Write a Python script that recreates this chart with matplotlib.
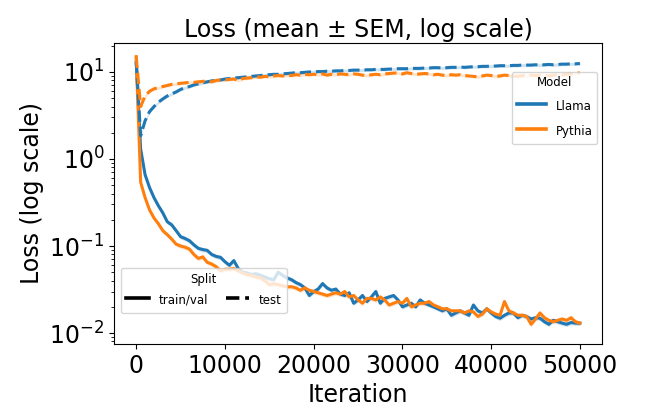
import numpy as np
import matplotlib
matplotlib.use("Agg")
import matplotlib.pyplot as plt
from matplotlib.lines import Line2D

# iterations (every 500 steps)
iterations = np.arange(0, 50001, 500)

llama_train = [
    13.0, 1.3, 0.66, 0.47, 0.36, 0.29, 0.24, 0.19, 0.175, 0.15,
    0.128, 0.122, 0.115, 0.103, 0.094, 0.091, 0.089, 0.08, 0.076, 0.074,
    0.066, 0.060, 0.068, 0.055, 0.050, 0.049, 0.047, 0.048, 0.046, 0.044,
    0.042, 0.041, 0.050, 0.046, 0.043, 0.041, 0.038, 0.036, 0.033, 0.027,
    0.030, 0.032, 0.037, 0.033, 0.031, 0.032, 0.028, 0.027, 0.029, 0.022,
    0.024, 0.027, 0.023, 0.026, 0.030, 0.022, 0.025, 0.026, 0.027, 0.024,
    0.020, 0.021, 0.022, 0.020, 0.024, 0.022, 0.021, 0.020, 0.019, 0.018,
    0.019, 0.016, 0.017, 0.018, 0.017, 0.016, 0.021, 0.018, 0.017, 0.019,
    0.017, 0.0155, 0.0148, 0.016, 0.017, 0.017, 0.015, 0.016, 0.0155, 0.0145,
    0.015, 0.0148, 0.0135, 0.0126, 0.014, 0.0135, 0.013, 0.0126, 0.0132, 0.013,
    0.013,
]

pythia_train = [
    15.0, 0.54, 0.36, 0.26, 0.21, 0.18, 0.15, 0.135, 0.12, 0.105,
    0.10, 0.097, 0.092, 0.08, 0.072, 0.075, 0.065, 0.062, 0.058, 0.052,
    0.054, 0.054, 0.055, 0.052, 0.049, 0.047, 0.046, 0.044, 0.043, 0.040,
    0.036, 0.037, 0.036, 0.035, 0.034, 0.034, 0.033, 0.031, 0.033, 0.031,
    0.030, 0.029, 0.028, 0.027, 0.028, 0.029, 0.028, 0.030, 0.026, 0.027,
    0.024, 0.022, 0.025, 0.025, 0.024, 0.026, 0.024, 0.021, 0.022, 0.023,
    0.022, 0.025, 0.020, 0.021, 0.022, 0.022, 0.023, 0.021, 0.020, 0.019,
    0.019, 0.018, 0.018, 0.018, 0.017, 0.018, 0.0175, 0.0155, 0.0165, 0.019,
    0.0175, 0.0165, 0.016, 0.023, 0.018, 0.017, 0.016, 0.016, 0.0155, 0.0126,
    0.0145, 0.017, 0.015, 0.014, 0.0135, 0.014, 0.0145, 0.014, 0.015, 0.0135,
    0.013,
]

llama_test = [
    13.0, 1.85, 2.75, 3.5, 4.0, 4.5, 4.9, 5.3, 5.6, 5.9,
    6.3, 6.6, 6.8, 7.1, 7.3, 7.5, 7.7, 7.9, 8.0, 8.1,
    8.3, 8.4, 8.5, 8.6, 8.7, 8.8, 8.9, 9.0, 9.1, 9.2,
    9.3, 9.4, 9.4, 9.5, 9.6, 9.7, 9.8, 9.8, 9.9, 10.0,
    10.0, 10.1, 10.1, 10.2, 10.2, 10.3, 10.3, 10.4, 10.4, 10.5,
    10.5, 10.5, 10.6, 10.6, 10.7, 10.7, 10.7, 10.8, 10.8, 10.9,
    10.9, 10.9, 11.0, 11.0, 11.0, 11.1, 11.1, 11.2, 11.2, 11.1,
    11.2, 11.3, 11.3, 11.4, 11.3, 11.4, 11.5, 11.5, 11.6, 11.6,
    11.7, 11.7, 11.8, 11.8, 11.8, 11.9, 11.9, 12.0, 12.0, 12.0,
    12.1, 12.0, 12.1, 12.2, 12.1, 12.2, 12.3, 12.3, 12.4, 12.4,
    12.5,
]

pythia_test = [
    15.0, 4.0, 5.3, 6.0, 6.4, 6.6, 6.8, 7.0, 7.2, 7.3,
    7.4, 7.5, 7.6, 7.6, 7.7, 7.8, 7.9, 7.7, 8.0, 8.1,
    8.1, 8.2, 8.3, 8.0, 8.4, 8.5, 8.6, 8.8, 8.7, 8.9,
    8.8, 9.0, 9.1, 9.0, 9.2, 9.1, 9.3, 9.2, 9.4, 9.3,
    9.4, 9.3, 9.5, 9.2, 9.4, 9.3, 9.5, 9.4, 9.3, 9.5,
    9.4, 9.2, 9.1, 9.3, 9.4, 9.3, 9.5, 9.6, 9.7, 9.8,
    9.5, 9.8, 9.6, 9.4, 9.5, 9.6, 9.5, 9.3, 9.4, 9.2,
    9.1, 9.3, 9.2, 9.3, 9.1, 9.0, 8.9, 8.8, 9.0, 9.2,
    9.1, 8.9, 9.0, 9.2, 9.1, 9.0, 8.9, 9.1, 9.0, 9.2,
    9.1, 9.2, 9.1, 9.0, 9.2, 9.3, 9.2, 9.4, 9.5, 9.6,
    9.8,
]

# approximate relative SEM (band half-width) read from the shading
sem_rel = {"train": 0.06, "test": 0.04}

models = ["Llama", "Pythia"]
colors = {"Llama": "#1f77b4", "Pythia": "#ff7f0e"}
series = {
    ("Llama", "train"): llama_train,
    ("Pythia", "train"): pythia_train,
    ("Llama", "test"): llama_test,
    ("Pythia", "test"): pythia_test,
}
styles = {"train": "-", "test": "--"}

fig = plt.figure(figsize=(6.49, 4.07), dpi=100)
ax = fig.add_axes([0.1757, 0.1548, 0.752, 0.7396])

for (model, split), vals in series.items():
    vals = np.array(vals)
    r = sem_rel[split]
    ax.fill_between(iterations, vals * (1 - r), vals * (1 + r),
                    color=colors[model], alpha=0.2, linewidth=0)
    ax.plot(iterations, vals, color=colors[model], linestyle=styles[split],
            linewidth=2.2)

ax.set_yscale("log")
ax.set_ylim(10 ** -2.126, 10 ** 1.333)
ax.set_title("Loss (mean ± SEM, log scale)", fontsize=17, pad=4)
ax.set_xlabel("Iteration", fontsize=17)
ax.set_ylabel("Loss (log scale)", fontsize=17)
ax.tick_params(axis="both", labelsize=17)

model_handles = [Line2D([0], [0], color=colors[m], linewidth=2.6) for m in models]
leg1 = ax.legend(model_handles, models, title="Model", loc="upper right",
                 bbox_to_anchor=(0.99, 0.905), borderaxespad=0,
                 fontsize=8.5, title_fontsize=8.5, handleheight=1.8,
                 labelspacing=0.7, handlelength=2.5)
ax.add_artist(leg1)

split_handles = [Line2D([0], [0], color="black", linewidth=2.6, linestyle="-"),
                 Line2D([0], [0], color="black", linewidth=2.6, linestyle="--")]
ax.legend(split_handles, ["train/val", "test"], title="Split", ncol=2,
          loc="lower left", bbox_to_anchor=(0.014, 0.103), borderaxespad=0,
          fontsize=8.5, title_fontsize=8.5, columnspacing=1.5,
          handleheight=1.8)

fig.savefig("out.png", dpi=100)
